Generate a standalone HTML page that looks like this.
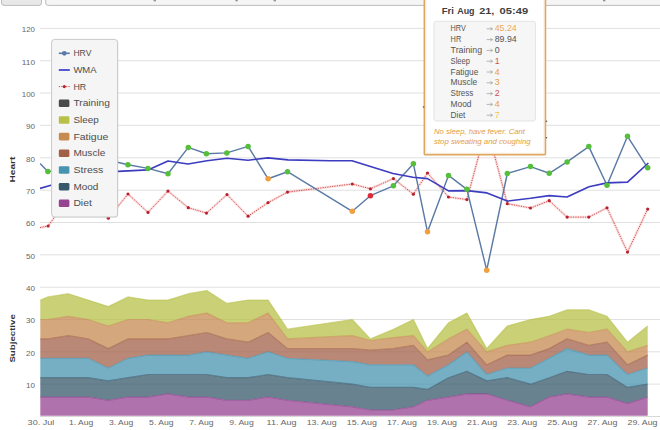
<!DOCTYPE html>
<html><head><meta charset="utf-8"><title>chart</title>
<style>
html,body{margin:0;padding:0;background:#fff;}
body{width:660px;height:430px;overflow:hidden;font-family:"Liberation Sans",sans-serif;}
svg{display:block;}
text{font-family:"Liberation Sans",sans-serif;}
</style></head><body>
<svg width="660" height="430" viewBox="0 0 660 430">
<defs>
<clipPath id="plot"><rect x="40" y="0" width="620" height="416"/></clipPath>
<linearGradient id="btn" x1="0" y1="0" x2="0" y2="1"><stop offset="0" stop-color="#ececec"/><stop offset="1" stop-color="#e2e2e2"/></linearGradient>
</defs>
<rect x="0" y="0" width="660" height="430" fill="#ffffff"/>

<rect x="1.5" y="-6" width="40" height="11.4" rx="2.5" fill="#e8e8e8" stroke="#bcbcbc" stroke-width="1"/>
<rect x="45.7" y="-6" width="700" height="11.4" rx="2.5" fill="#f5f5f5" stroke="#bcbcbc" stroke-width="1"/>
<rect x="153.6" y="0" width="2.4" height="1.3" fill="#777" opacity="0.8"/>
<rect x="235.4" y="0" width="2.4" height="1.3" fill="#777" opacity="0.8"/>
<rect x="273.6" y="0" width="2.4" height="1.3" fill="#777" opacity="0.8"/>
<rect x="603.0" y="0" width="2.4" height="1.3" fill="#777" opacity="0.8"/>
<line x1="40" y1="28.4" x2="660" y2="28.4" stroke="#e0e0e0" stroke-width="1"/>
<line x1="40" y1="60.7" x2="660" y2="60.7" stroke="#e0e0e0" stroke-width="1"/>
<line x1="40" y1="93.0" x2="660" y2="93.0" stroke="#e0e0e0" stroke-width="1"/>
<line x1="40" y1="125.3" x2="660" y2="125.3" stroke="#e0e0e0" stroke-width="1"/>
<line x1="40" y1="157.8" x2="660" y2="157.8" stroke="#e0e0e0" stroke-width="1"/>
<line x1="40" y1="190.2" x2="660" y2="190.2" stroke="#e0e0e0" stroke-width="1"/>
<line x1="40" y1="222.5" x2="660" y2="222.5" stroke="#e0e0e0" stroke-width="1"/>
<line x1="40" y1="254.8" x2="660" y2="254.8" stroke="#e0e0e0" stroke-width="1"/>
<line x1="40" y1="287.2" x2="660" y2="287.2" stroke="#e0e0e0" stroke-width="1"/>
<line x1="40" y1="319.5" x2="660" y2="319.5" stroke="#e0e0e0" stroke-width="1"/>
<line x1="40" y1="351.8" x2="660" y2="351.8" stroke="#e0e0e0" stroke-width="1"/>
<line x1="40" y1="384.1" x2="660" y2="384.1" stroke="#e0e0e0" stroke-width="1"/>
<line x1="40" y1="416.5" x2="660" y2="416.5" stroke="#d8d8d8" stroke-width="1"/>
<text x="35" y="32.2" text-anchor="end" font-size="8" fill="#666" textLength="13.2" lengthAdjust="spacingAndGlyphs">120</text>
<text x="35" y="64.5" text-anchor="end" font-size="8" fill="#666" textLength="13.2" lengthAdjust="spacingAndGlyphs">110</text>
<text x="35" y="96.8" text-anchor="end" font-size="8" fill="#666" textLength="13.2" lengthAdjust="spacingAndGlyphs">100</text>
<text x="35" y="129.1" text-anchor="end" font-size="8" fill="#666" textLength="9.0" lengthAdjust="spacingAndGlyphs">90</text>
<text x="35" y="161.6" text-anchor="end" font-size="8" fill="#666" textLength="9.0" lengthAdjust="spacingAndGlyphs">80</text>
<text x="35" y="194.0" text-anchor="end" font-size="8" fill="#666" textLength="9.0" lengthAdjust="spacingAndGlyphs">70</text>
<text x="35" y="226.3" text-anchor="end" font-size="8" fill="#666" textLength="9.0" lengthAdjust="spacingAndGlyphs">60</text>
<text x="35" y="258.6" text-anchor="end" font-size="8" fill="#666" textLength="9.0" lengthAdjust="spacingAndGlyphs">50</text>
<text x="35" y="291.0" text-anchor="end" font-size="8" fill="#666" textLength="9.0" lengthAdjust="spacingAndGlyphs">40</text>
<text x="35" y="323.3" text-anchor="end" font-size="8" fill="#666" textLength="9.0" lengthAdjust="spacingAndGlyphs">30</text>
<text x="35" y="355.6" text-anchor="end" font-size="8" fill="#666" textLength="9.0" lengthAdjust="spacingAndGlyphs">20</text>
<text x="35" y="387.9" text-anchor="end" font-size="8" fill="#666" textLength="9.0" lengthAdjust="spacingAndGlyphs">10</text>
<text transform="translate(15.1,169.6) rotate(-90)" text-anchor="middle" font-size="8" font-weight="bold" fill="#333" textLength="25.8" lengthAdjust="spacingAndGlyphs">Heart</text>
<text transform="translate(14.8,338.4) rotate(-90)" text-anchor="middle" font-size="8" font-weight="bold" fill="#333" textLength="48.4" lengthAdjust="spacingAndGlyphs">Subjective</text>
<g clip-path="url(#plot)">
<path d="M40.3 300.1 L48.0 296.9 L68.4 293.7 L88.0 300.1 L108.3 306.6 L128.2 296.9 L148.0 300.1 L168.0 300.1 L188.3 293.7 L206.8 290.5 L226.8 303.4 L248.1 300.1 L268.1 300.1 L287.5 329.2 L352.3 319.5 L370.4 338.9 L393.4 329.2 L413.4 319.5 L427.5 348.6 L448.5 322.8 L466.9 313.1 L486.7 348.6 L507.3 326.0 L530.5 319.5 L549.2 316.3 L567.1 309.8 L588.8 309.8 L607.0 316.3 L627.5 342.2 L647.7 326.0 L647.7 345.4 L627.5 351.9 L607.0 329.2 L588.8 332.5 L567.1 329.2 L549.2 335.7 L530.5 342.2 L507.3 345.4 L486.7 351.9 L466.9 329.2 L448.5 338.9 L427.5 351.9 L413.4 335.7 L393.4 337.6 L370.4 340.5 L352.3 335.7 L287.5 338.9 L268.1 313.1 L248.1 322.8 L226.8 322.8 L206.8 313.1 L188.3 316.3 L168.0 322.8 L148.0 319.5 L128.2 319.5 L108.3 326.0 L88.0 319.5 L68.4 316.3 L48.0 319.5 L40.3 319.5Z" fill="#b7c047" fill-opacity="0.75"/>
<path d="M40.3 300.1 L48.0 296.9 L68.4 293.7 L88.0 300.1 L108.3 306.6 L128.2 296.9 L148.0 300.1 L168.0 300.1 L188.3 293.7 L206.8 290.5 L226.8 303.4 L248.1 300.1 L268.1 300.1 L287.5 329.2 L352.3 319.5 L370.4 338.9 L393.4 329.2 L413.4 319.5 L427.5 348.6 L448.5 322.8 L466.9 313.1 L486.7 348.6 L507.3 326.0 L530.5 319.5 L549.2 316.3 L567.1 309.8 L588.8 309.8 L607.0 316.3 L627.5 342.2 L647.7 326.0" fill="none" stroke="#b7c047" stroke-opacity="0.55" stroke-width="1.2" stroke-linejoin="round"/>
<path d="M40.3 319.5 L48.0 319.5 L68.4 316.3 L88.0 319.5 L108.3 326.0 L128.2 319.5 L148.0 319.5 L168.0 322.8 L188.3 316.3 L206.8 313.1 L226.8 322.8 L248.1 322.8 L268.1 313.1 L287.5 338.9 L352.3 335.7 L370.4 340.5 L393.4 337.6 L413.4 335.7 L427.5 351.9 L448.5 338.9 L466.9 329.2 L486.7 351.9 L507.3 345.4 L530.5 342.2 L549.2 335.7 L567.1 329.2 L588.8 332.5 L607.0 329.2 L627.5 351.9 L647.7 345.4 L647.7 355.1 L627.5 364.8 L607.0 342.2 L588.8 345.4 L567.1 338.9 L549.2 348.6 L530.5 355.1 L507.3 355.1 L486.7 364.8 L466.9 342.2 L448.5 355.1 L427.5 359.9 L413.4 345.4 L393.4 348.6 L370.4 350.2 L352.3 348.6 L287.5 348.6 L268.1 332.5 L248.1 342.2 L226.8 338.9 L206.8 332.5 L188.3 335.7 L168.0 338.9 L148.0 338.9 L128.2 338.9 L108.3 348.6 L88.0 338.9 L68.4 335.7 L48.0 338.9 L40.3 338.9Z" fill="#c68b50" fill-opacity="0.75"/>
<path d="M40.3 319.5 L48.0 319.5 L68.4 316.3 L88.0 319.5 L108.3 326.0 L128.2 319.5 L148.0 319.5 L168.0 322.8 L188.3 316.3 L206.8 313.1 L226.8 322.8 L248.1 322.8 L268.1 313.1 L287.5 338.9 L352.3 335.7 L370.4 340.5 L393.4 337.6 L413.4 335.7 L427.5 351.9 L448.5 338.9 L466.9 329.2 L486.7 351.9 L507.3 345.4 L530.5 342.2 L549.2 335.7 L567.1 329.2 L588.8 332.5 L607.0 329.2 L627.5 351.9 L647.7 345.4" fill="none" stroke="#c68b50" stroke-opacity="0.55" stroke-width="1.2" stroke-linejoin="round"/>
<path d="M40.3 338.9 L48.0 338.9 L68.4 335.7 L88.0 338.9 L108.3 348.6 L128.2 338.9 L148.0 338.9 L168.0 338.9 L188.3 335.7 L206.8 332.5 L226.8 338.9 L248.1 342.2 L268.1 332.5 L287.5 348.6 L352.3 348.6 L370.4 350.2 L393.4 348.6 L413.4 345.4 L427.5 359.9 L448.5 355.1 L466.9 342.2 L486.7 364.8 L507.3 355.1 L530.5 355.1 L549.2 348.6 L567.1 338.9 L588.8 345.4 L607.0 342.2 L627.5 364.8 L647.7 355.1 L647.7 368.0 L627.5 374.5 L607.0 355.1 L588.8 355.1 L567.1 348.6 L549.2 358.3 L530.5 368.0 L507.3 368.0 L486.7 374.5 L466.9 351.9 L448.5 364.8 L427.5 376.1 L413.4 364.8 L393.4 364.8 L370.4 364.8 L352.3 361.6 L287.5 358.3 L268.1 351.9 L248.1 358.3 L226.8 355.1 L206.8 351.9 L188.3 355.1 L168.0 355.1 L148.0 355.1 L128.2 358.3 L108.3 368.0 L88.0 358.3 L68.4 358.3 L48.0 358.3 L40.3 358.3Z" fill="#a36048" fill-opacity="0.75"/>
<path d="M40.3 338.9 L48.0 338.9 L68.4 335.7 L88.0 338.9 L108.3 348.6 L128.2 338.9 L148.0 338.9 L168.0 338.9 L188.3 335.7 L206.8 332.5 L226.8 338.9 L248.1 342.2 L268.1 332.5 L287.5 348.6 L352.3 348.6 L370.4 350.2 L393.4 348.6 L413.4 345.4 L427.5 359.9 L448.5 355.1 L466.9 342.2 L486.7 364.8 L507.3 355.1 L530.5 355.1 L549.2 348.6 L567.1 338.9 L588.8 345.4 L607.0 342.2 L627.5 364.8 L647.7 355.1" fill="none" stroke="#a36048" stroke-opacity="0.55" stroke-width="1.2" stroke-linejoin="round"/>
<path d="M40.3 358.3 L48.0 358.3 L68.4 358.3 L88.0 358.3 L108.3 368.0 L128.2 358.3 L148.0 355.1 L168.0 355.1 L188.3 355.1 L206.8 351.9 L226.8 355.1 L248.1 358.3 L268.1 351.9 L287.5 358.3 L352.3 361.6 L370.4 364.8 L393.4 364.8 L413.4 364.8 L427.5 376.1 L448.5 364.8 L466.9 351.9 L486.7 374.5 L507.3 368.0 L530.5 368.0 L549.2 358.3 L567.1 348.6 L588.8 355.1 L607.0 355.1 L627.5 374.5 L647.7 368.0 L647.7 384.2 L627.5 387.4 L607.0 374.5 L588.8 374.5 L567.1 371.3 L549.2 377.7 L530.5 384.2 L507.3 377.7 L486.7 380.9 L466.9 371.3 L448.5 377.7 L427.5 389.4 L413.4 387.4 L393.4 387.4 L370.4 387.4 L352.3 384.2 L287.5 377.7 L268.1 374.5 L248.1 377.7 L226.8 377.7 L206.8 374.5 L188.3 374.5 L168.0 374.5 L148.0 374.5 L128.2 377.7 L108.3 380.9 L88.0 377.7 L68.4 377.7 L48.0 377.7 L40.3 377.7Z" fill="#4894b0" fill-opacity="0.75"/>
<path d="M40.3 358.3 L48.0 358.3 L68.4 358.3 L88.0 358.3 L108.3 368.0 L128.2 358.3 L148.0 355.1 L168.0 355.1 L188.3 355.1 L206.8 351.9 L226.8 355.1 L248.1 358.3 L268.1 351.9 L287.5 358.3 L352.3 361.6 L370.4 364.8 L393.4 364.8 L413.4 364.8 L427.5 376.1 L448.5 364.8 L466.9 351.9 L486.7 374.5 L507.3 368.0 L530.5 368.0 L549.2 358.3 L567.1 348.6 L588.8 355.1 L607.0 355.1 L627.5 374.5 L647.7 368.0" fill="none" stroke="#4894b0" stroke-opacity="0.55" stroke-width="1.2" stroke-linejoin="round"/>
<path d="M40.3 377.7 L48.0 377.7 L68.4 377.7 L88.0 377.7 L108.3 380.9 L128.2 377.7 L148.0 374.5 L168.0 374.5 L188.3 374.5 L206.8 374.5 L226.8 377.7 L248.1 377.7 L268.1 374.5 L287.5 377.7 L352.3 384.2 L370.4 387.4 L393.4 387.4 L413.4 387.4 L427.5 389.4 L448.5 377.7 L466.9 371.3 L486.7 380.9 L507.3 377.7 L530.5 384.2 L549.2 377.7 L567.1 371.3 L588.8 374.5 L607.0 374.5 L627.5 387.4 L647.7 384.2 L647.7 397.1 L627.5 403.6 L607.0 397.1 L588.8 397.1 L567.1 393.9 L549.2 397.1 L530.5 406.8 L507.3 400.3 L486.7 393.9 L466.9 393.9 L448.5 397.1 L427.5 400.3 L413.4 406.8 L393.4 410.0 L370.4 410.0 L352.3 406.8 L287.5 400.3 L268.1 397.1 L248.1 400.3 L226.8 400.3 L206.8 397.1 L188.3 397.1 L168.0 393.9 L148.0 397.1 L128.2 397.1 L108.3 400.3 L88.0 397.1 L68.4 397.1 L48.0 397.1 L40.3 397.1Z" fill="#36586a" fill-opacity="0.75"/>
<path d="M40.3 377.7 L48.0 377.7 L68.4 377.7 L88.0 377.7 L108.3 380.9 L128.2 377.7 L148.0 374.5 L168.0 374.5 L188.3 374.5 L206.8 374.5 L226.8 377.7 L248.1 377.7 L268.1 374.5 L287.5 377.7 L352.3 384.2 L370.4 387.4 L393.4 387.4 L413.4 387.4 L427.5 389.4 L448.5 377.7 L466.9 371.3 L486.7 380.9 L507.3 377.7 L530.5 384.2 L549.2 377.7 L567.1 371.3 L588.8 374.5 L607.0 374.5 L627.5 387.4 L647.7 384.2" fill="none" stroke="#36586a" stroke-opacity="0.55" stroke-width="1.2" stroke-linejoin="round"/>
<path d="M40.3 397.1 L48.0 397.1 L68.4 397.1 L88.0 397.1 L108.3 400.3 L128.2 397.1 L148.0 397.1 L168.0 393.9 L188.3 397.1 L206.8 397.1 L226.8 400.3 L248.1 400.3 L268.1 397.1 L287.5 400.3 L352.3 406.8 L370.4 410.0 L393.4 410.0 L413.4 406.8 L427.5 400.3 L448.5 397.1 L466.9 393.9 L486.7 393.9 L507.3 400.3 L530.5 406.8 L549.2 397.1 L567.1 393.9 L588.8 397.1 L607.0 397.1 L627.5 403.6 L647.7 397.1 L647.7 415.7 L627.5 415.7 L607.0 415.7 L588.8 415.7 L567.1 415.7 L549.2 415.7 L530.5 415.7 L507.3 415.7 L486.7 415.7 L466.9 415.7 L448.5 415.7 L427.5 415.7 L413.4 415.7 L393.4 415.7 L370.4 415.7 L352.3 415.7 L287.5 415.7 L268.1 415.7 L248.1 415.7 L226.8 415.7 L206.8 415.7 L188.3 415.7 L168.0 415.7 L148.0 415.7 L128.2 415.7 L108.3 415.7 L88.0 415.7 L68.4 415.7 L48.0 415.7 L40.3 415.7Z" fill="#964392" fill-opacity="0.75"/>
<path d="M40.3 397.1 L48.0 397.1 L68.4 397.1 L88.0 397.1 L108.3 400.3 L128.2 397.1 L148.0 397.1 L168.0 393.9 L188.3 397.1 L206.8 397.1 L226.8 400.3 L248.1 400.3 L268.1 397.1 L287.5 400.3 L352.3 406.8 L370.4 410.0 L393.4 410.0 L413.4 406.8 L427.5 400.3 L448.5 397.1 L466.9 393.9 L486.7 393.9 L507.3 400.3 L530.5 406.8 L549.2 397.1 L567.1 393.9 L588.8 397.1 L607.0 397.1 L627.5 403.6 L647.7 397.1" fill="none" stroke="#964392" stroke-opacity="0.55" stroke-width="1.2" stroke-linejoin="round"/>
</g>
<g clip-path="url(#plot)">
<path d="M40.0 227.6 L48.1 226.0 L68.4 198.0 L88.0 205.0 L108.4 218.2 L128.0 194.0 L148.0 212.4 L168.0 191.1 L188.3 207.7 L206.5 213.1 L227.0 194.6 L248.1 216.2 L268.1 202.6 L287.5 192.1 L352.3 184.0 L370.4 188.8 L393.4 178.6 L413.4 194.2 L427.5 173.0 L448.5 197.0 L466.9 199.6 L486.7 126.0 L507.3 203.7 L530.5 208.0 L549.2 200.7 L567.1 217.1 L588.8 217.1 L607.0 207.8 L627.5 252.1 L647.7 209.1" fill="none" stroke="#f07070" stroke-opacity="0.22" stroke-width="2.6" stroke-linejoin="round"/>
<path d="M40.0 227.6 L48.1 226.0 L68.4 198.0 L88.0 205.0 L108.4 218.2 L128.0 194.0 L148.0 212.4 L168.0 191.1 L188.3 207.7 L206.5 213.1 L227.0 194.6 L248.1 216.2 L268.1 202.6 L287.5 192.1 L352.3 184.0 L370.4 188.8 L393.4 178.6 L413.4 194.2 L427.5 173.0 L448.5 197.0 L466.9 199.6 L486.7 126.0 L507.3 203.7 L530.5 208.0 L549.2 200.7 L567.1 217.1 L588.8 217.1 L607.0 207.8 L627.5 252.1 L647.7 209.1" fill="none" stroke="#cc4545" stroke-width="0.9" stroke-dasharray="1.3 1.1" stroke-linejoin="round"/>
<circle cx="48.1" cy="226.0" r="1.6" fill="#b8222f"/>
<circle cx="68.4" cy="198.0" r="1.6" fill="#b8222f"/>
<circle cx="88.0" cy="205.0" r="1.6" fill="#b8222f"/>
<circle cx="108.4" cy="218.2" r="1.6" fill="#b8222f"/>
<circle cx="128.0" cy="194.0" r="1.6" fill="#b8222f"/>
<circle cx="148.0" cy="212.4" r="1.6" fill="#b8222f"/>
<circle cx="168.0" cy="191.1" r="1.6" fill="#b8222f"/>
<circle cx="188.3" cy="207.7" r="1.6" fill="#b8222f"/>
<circle cx="206.5" cy="213.1" r="1.6" fill="#b8222f"/>
<circle cx="227.0" cy="194.6" r="1.6" fill="#b8222f"/>
<circle cx="248.1" cy="216.2" r="1.6" fill="#b8222f"/>
<circle cx="268.1" cy="202.6" r="1.6" fill="#b8222f"/>
<circle cx="287.5" cy="192.1" r="1.6" fill="#b8222f"/>
<circle cx="352.3" cy="184.0" r="1.6" fill="#b8222f"/>
<circle cx="370.4" cy="188.8" r="1.6" fill="#b8222f"/>
<circle cx="393.4" cy="178.6" r="1.6" fill="#b8222f"/>
<circle cx="413.4" cy="194.2" r="1.6" fill="#b8222f"/>
<circle cx="427.5" cy="173.0" r="1.6" fill="#b8222f"/>
<circle cx="448.5" cy="197.0" r="1.6" fill="#b8222f"/>
<circle cx="466.9" cy="199.6" r="1.6" fill="#b8222f"/>
<circle cx="486.7" cy="126.0" r="1.6" fill="#b8222f"/>
<circle cx="507.3" cy="203.7" r="1.6" fill="#b8222f"/>
<circle cx="530.5" cy="208.0" r="1.6" fill="#b8222f"/>
<circle cx="549.2" cy="200.7" r="1.6" fill="#b8222f"/>
<circle cx="567.1" cy="217.1" r="1.6" fill="#b8222f"/>
<circle cx="588.8" cy="217.1" r="1.6" fill="#b8222f"/>
<circle cx="607.0" cy="207.8" r="1.6" fill="#b8222f"/>
<circle cx="627.5" cy="252.1" r="1.6" fill="#b8222f"/>
<circle cx="647.7" cy="209.1" r="1.6" fill="#b8222f"/>
<path d="M40.0 163.5 L47.9 171.6 L68.4 169.0 L88.0 166.0 L108.3 160.0 L127.9 164.8 L147.9 168.4 L168.0 173.7 L188.3 147.4 L206.4 153.8 L226.8 152.9 L248.1 146.4 L268.1 178.8 L287.5 171.7 L352.3 211.3 L370.4 195.7 L393.4 185.8 L413.4 163.8 L427.5 231.8 L448.5 175.4 L466.9 189.3 L486.7 270.2 L507.3 173.5 L530.5 166.6 L549.2 173.3 L567.1 161.9 L588.8 146.6 L607.0 185.2 L627.5 136.3 L647.7 167.8" fill="none" stroke="#5b7ba6" stroke-width="1.45" stroke-linejoin="round"/>
<path d="M40.0 188.4 L51.0 185.2 L68.0 184.0 L88.0 180.0 L108.0 173.0 L118.0 171.4 L148.0 169.9 L168.0 161.0 L188.0 164.0 L207.0 160.7 L227.0 158.3 L248.0 160.2 L268.0 157.9 L288.0 159.9 L330.0 160.7 L352.0 160.7 L393.0 173.5 L413.0 177.3 L427.5 178.6 L448.5 190.9 L467.0 190.6 L487.0 192.9 L507.3 201.1 L530.5 198.3 L549.2 195.6 L567.0 197.0 L589.0 186.7 L607.0 182.9 L627.5 182.1 L648.4 163.0" fill="none" stroke="#3c3cc0" stroke-width="1.65" stroke-linejoin="round"/>
<circle cx="47.9" cy="171.6" r="2.75" fill="#55bf3b"/>
<circle cx="68.4" cy="169.0" r="2.75" fill="#55bf3b"/>
<circle cx="88.0" cy="166.0" r="2.75" fill="#55bf3b"/>
<circle cx="108.3" cy="160.0" r="2.75" fill="#55bf3b"/>
<circle cx="127.9" cy="164.8" r="2.75" fill="#55bf3b"/>
<circle cx="147.9" cy="168.4" r="2.75" fill="#55bf3b"/>
<circle cx="168.0" cy="173.7" r="2.75" fill="#55bf3b"/>
<circle cx="188.3" cy="147.4" r="2.75" fill="#55bf3b"/>
<circle cx="206.4" cy="153.8" r="2.75" fill="#55bf3b"/>
<circle cx="226.8" cy="152.9" r="2.75" fill="#55bf3b"/>
<circle cx="248.1" cy="146.4" r="2.75" fill="#55bf3b"/>
<circle cx="268.1" cy="178.8" r="2.75" fill="#f0a040"/>
<circle cx="287.5" cy="171.7" r="2.75" fill="#55bf3b"/>
<circle cx="352.3" cy="211.3" r="2.75" fill="#f0a040"/>
<circle cx="370.4" cy="195.7" r="2.75" fill="#dd2a3a"/>
<circle cx="393.4" cy="185.8" r="2.75" fill="#55bf3b"/>
<circle cx="413.4" cy="163.8" r="2.75" fill="#55bf3b"/>
<circle cx="427.5" cy="231.8" r="2.75" fill="#f0a040"/>
<circle cx="448.5" cy="175.4" r="2.75" fill="#55bf3b"/>
<circle cx="466.9" cy="189.3" r="2.75" fill="#55bf3b"/>
<circle cx="486.7" cy="270.2" r="2.75" fill="#f0a040"/>
<circle cx="507.3" cy="173.5" r="2.75" fill="#55bf3b"/>
<circle cx="530.5" cy="166.6" r="2.75" fill="#55bf3b"/>
<circle cx="549.2" cy="173.3" r="2.75" fill="#55bf3b"/>
<circle cx="567.1" cy="161.9" r="2.75" fill="#55bf3b"/>
<circle cx="588.8" cy="146.6" r="2.75" fill="#55bf3b"/>
<circle cx="607.0" cy="185.2" r="2.75" fill="#55bf3b"/>
<circle cx="627.5" cy="136.3" r="2.75" fill="#55bf3b"/>
<circle cx="647.7" cy="167.8" r="2.75" fill="#55bf3b"/>
</g>
<text x="27.6" y="425.1" font-size="7.9" fill="#666" textLength="26.7" lengthAdjust="spacingAndGlyphs">30. Jul</text>
<text x="68.9" y="425.1" font-size="7.9" fill="#666" textLength="24.4" lengthAdjust="spacingAndGlyphs">1. Aug</text>
<text x="109.0" y="425.1" font-size="7.9" fill="#666" textLength="24.4" lengthAdjust="spacingAndGlyphs">3. Aug</text>
<text x="149.1" y="425.1" font-size="7.9" fill="#666" textLength="24.4" lengthAdjust="spacingAndGlyphs">5. Aug</text>
<text x="189.2" y="425.1" font-size="7.9" fill="#666" textLength="24.4" lengthAdjust="spacingAndGlyphs">7. Aug</text>
<text x="229.3" y="425.1" font-size="7.9" fill="#666" textLength="24.4" lengthAdjust="spacingAndGlyphs">9. Aug</text>
<text x="266.6" y="425.1" font-size="7.9" fill="#666" textLength="30.0" lengthAdjust="spacingAndGlyphs">11. Aug</text>
<text x="306.7" y="425.1" font-size="7.9" fill="#666" textLength="30.0" lengthAdjust="spacingAndGlyphs">13. Aug</text>
<text x="346.8" y="425.1" font-size="7.9" fill="#666" textLength="30.0" lengthAdjust="spacingAndGlyphs">15. Aug</text>
<text x="386.9" y="425.1" font-size="7.9" fill="#666" textLength="30.0" lengthAdjust="spacingAndGlyphs">17. Aug</text>
<text x="427.0" y="425.1" font-size="7.9" fill="#666" textLength="30.0" lengthAdjust="spacingAndGlyphs">19. Aug</text>
<text x="467.1" y="425.1" font-size="7.9" fill="#666" textLength="30.0" lengthAdjust="spacingAndGlyphs">21. Aug</text>
<text x="507.2" y="425.1" font-size="7.9" fill="#666" textLength="30.0" lengthAdjust="spacingAndGlyphs">23. Aug</text>
<text x="547.3" y="425.1" font-size="7.9" fill="#666" textLength="30.0" lengthAdjust="spacingAndGlyphs">25. Aug</text>
<text x="587.4" y="425.1" font-size="7.9" fill="#666" textLength="30.0" lengthAdjust="spacingAndGlyphs">27. Aug</text>
<text x="627.5" y="425.1" font-size="7.9" fill="#666" textLength="30.0" lengthAdjust="spacingAndGlyphs">29. Aug</text>
<rect x="52.4" y="40.4" width="66" height="177.6" rx="3" fill="#000" opacity="0.06"/>
<rect x="51.6" y="39.4" width="66" height="177.6" rx="3" fill="#f5f5f5" stroke="#c9c9c9" stroke-width="1"/>
<line x1="58.8" y1="53.3" x2="69.8" y2="53.3" stroke="#5a7aa8" stroke-width="1.6"/>
<circle cx="64.3" cy="53.3" r="2.4" fill="#5a7aa8"/>
<text x="73.4" y="56.4" font-size="8.6" fill="#4d4d4d" textLength="18.0" lengthAdjust="spacingAndGlyphs">HRV</text>
<line x1="58.8" y1="70.0" x2="69.8" y2="70.0" stroke="#3a3ac8" stroke-width="1.7"/>
<text x="73.4" y="73.1" font-size="8.6" fill="#4d4d4d" textLength="23.2" lengthAdjust="spacingAndGlyphs">WMA</text>
<line x1="58.8" y1="86.6" x2="69.8" y2="86.6" stroke="#cc4545" stroke-width="0.9" stroke-dasharray="1.3 1.1"/>
<circle cx="64.3" cy="86.6" r="1.6" fill="#b8222f"/>
<text x="73.4" y="89.7" font-size="8.6" fill="#4d4d4d" textLength="12.8" lengthAdjust="spacingAndGlyphs">HR</text>
<rect x="58.8" y="99.5" width="10.6" height="7.6" rx="1.4" fill="#4a4a4a"/>
<text x="73.4" y="106.4" font-size="8.6" fill="#4d4d4d" textLength="36.5" lengthAdjust="spacingAndGlyphs">Training</text>
<rect x="58.8" y="116.2" width="10.6" height="7.6" rx="1.4" fill="#b7c047"/>
<text x="73.4" y="123.1" font-size="8.6" fill="#4d4d4d" textLength="25.3" lengthAdjust="spacingAndGlyphs">Sleep</text>
<rect x="58.8" y="132.8" width="10.6" height="7.6" rx="1.4" fill="#c68b50"/>
<text x="73.4" y="139.8" font-size="8.6" fill="#4d4d4d" textLength="34.9" lengthAdjust="spacingAndGlyphs">Fatigue</text>
<rect x="58.8" y="149.5" width="10.6" height="7.6" rx="1.4" fill="#a36048"/>
<text x="73.4" y="156.4" font-size="8.6" fill="#4d4d4d" textLength="31.9" lengthAdjust="spacingAndGlyphs">Muscle</text>
<rect x="58.8" y="166.2" width="10.6" height="7.6" rx="1.4" fill="#4894b0"/>
<text x="73.4" y="173.1" font-size="8.6" fill="#4d4d4d" textLength="30.0" lengthAdjust="spacingAndGlyphs">Stress</text>
<rect x="58.8" y="182.9" width="10.6" height="7.6" rx="1.4" fill="#36586a"/>
<text x="73.4" y="189.8" font-size="8.6" fill="#4d4d4d" textLength="24.9" lengthAdjust="spacingAndGlyphs">Mood</text>
<rect x="58.8" y="199.5" width="10.6" height="7.6" rx="1.4" fill="#964392"/>
<text x="73.4" y="206.4" font-size="8.6" fill="#4d4d4d" textLength="18.4" lengthAdjust="spacingAndGlyphs">Diet</text>
<rect x="424.4" y="-6" width="121" height="160.6" rx="0.5" fill="#ffffff" stroke="#dfa660" stroke-width="1.7"/>
<rect x="425.8" y="-6" width="118.2" height="159.2" fill="none" stroke="#f7e8d4" stroke-width="0.9"/>
<text x="441.8" y="13.6" font-size="8.3" font-weight="bold" fill="#404040" textLength="12.1" lengthAdjust="spacingAndGlyphs">Fri</text>
<text x="457.2" y="13.6" font-size="8.3" font-weight="bold" fill="#404040" textLength="17.4" lengthAdjust="spacingAndGlyphs">Aug</text>
<text x="479.2" y="13.6" font-size="8.3" font-weight="bold" fill="#404040" textLength="15.2" lengthAdjust="spacingAndGlyphs">21,</text>
<text x="499.6" y="13.6" font-size="8.3" font-weight="bold" fill="#404040" textLength="28.5" lengthAdjust="spacingAndGlyphs">05:49</text>
<rect x="433.9" y="21.3" width="101.5" height="99.7" rx="2.5" fill="#f6f6f6" stroke="#e3e3e3" stroke-width="1"/>
<text x="450.6" y="31.4" font-size="8.7" fill="#555" textLength="15.2" lengthAdjust="spacingAndGlyphs">HRV</text>
<path d="M486.6 28.8 H492.4 M490.4 27.3 L492.6 28.8 L490.4 30.3" fill="none" stroke="#9c9c9c" stroke-width="0.7"/>
<text x="494.7" y="31.4" font-size="8.8" fill="#eeaa58">45.24</text>
<text x="450.6" y="42.2" font-size="8.7" fill="#555" textLength="10.6" lengthAdjust="spacingAndGlyphs">HR</text>
<path d="M486.6 39.6 H492.4 M490.4 38.1 L492.6 39.6 L490.4 41.1" fill="none" stroke="#9c9c9c" stroke-width="0.7"/>
<text x="494.7" y="42.2" font-size="8.8" fill="#555">89.94</text>
<text x="450.6" y="53.0" font-size="8.7" fill="#555" textLength="31.5" lengthAdjust="spacingAndGlyphs">Training</text>
<path d="M486.6 50.4 H492.4 M490.4 48.9 L492.6 50.4 L490.4 51.9" fill="none" stroke="#9c9c9c" stroke-width="0.7"/>
<text x="494.7" y="53.0" font-size="8.8" fill="#555">0</text>
<text x="450.6" y="63.8" font-size="8.7" fill="#555" textLength="19.4" lengthAdjust="spacingAndGlyphs">Sleep</text>
<path d="M486.6 61.2 H492.4 M490.4 59.7 L492.6 61.2 L490.4 62.7" fill="none" stroke="#9c9c9c" stroke-width="0.7"/>
<text x="494.7" y="63.8" font-size="8.8" fill="#d05050">1</text>
<text x="450.6" y="74.6" font-size="8.7" fill="#555" textLength="27.7" lengthAdjust="spacingAndGlyphs">Fatigue</text>
<path d="M486.6 72.0 H492.4 M490.4 70.5 L492.6 72.0 L490.4 73.5" fill="none" stroke="#9c9c9c" stroke-width="0.7"/>
<text x="494.7" y="74.6" font-size="8.8" fill="#e8a040">4</text>
<text x="450.6" y="85.4" font-size="8.7" fill="#555" textLength="26.7" lengthAdjust="spacingAndGlyphs">Muscle</text>
<path d="M486.6 82.8 H492.4 M490.4 81.3 L492.6 82.8 L490.4 84.3" fill="none" stroke="#9c9c9c" stroke-width="0.7"/>
<text x="494.7" y="85.4" font-size="8.8" fill="#e8a040">3</text>
<text x="450.6" y="96.2" font-size="8.7" fill="#555" textLength="22.7" lengthAdjust="spacingAndGlyphs">Stress</text>
<path d="M486.6 93.6 H492.4 M490.4 92.1 L492.6 93.6 L490.4 95.1" fill="none" stroke="#9c9c9c" stroke-width="0.7"/>
<text x="494.7" y="96.2" font-size="8.8" fill="#d05050">2</text>
<text x="450.6" y="107.0" font-size="8.7" fill="#555" textLength="20.9" lengthAdjust="spacingAndGlyphs">Mood</text>
<path d="M486.6 104.4 H492.4 M490.4 102.9 L492.6 104.4 L490.4 105.9" fill="none" stroke="#9c9c9c" stroke-width="0.7"/>
<text x="494.7" y="107.0" font-size="8.8" fill="#e8a040">4</text>
<text x="450.6" y="117.8" font-size="8.7" fill="#555" textLength="14.8" lengthAdjust="spacingAndGlyphs">Diet</text>
<path d="M486.6 115.2 H492.4 M490.4 113.7 L492.6 115.2 L490.4 116.7" fill="none" stroke="#9c9c9c" stroke-width="0.7"/>
<text x="494.7" y="117.8" font-size="8.8" fill="#f2c94a">7</text>
<text x="434" y="134" font-size="7.6" font-style="italic" fill="#e39c40" textLength="91" lengthAdjust="spacingAndGlyphs">No sleep, have fever. Cant</text>
<text x="434" y="144.2" font-size="7.6" font-style="italic" fill="#e39c40" textLength="96.6" lengthAdjust="spacingAndGlyphs">stop sweating and coughing</text>
<circle cx="546.5" cy="121.2" r="0.8" fill="#555"/>
<circle cx="546.5" cy="137.8" r="0.8" fill="#555"/>
<circle cx="423.5" cy="107.0" r="0.8" fill="#555"/>
</svg></body></html>
